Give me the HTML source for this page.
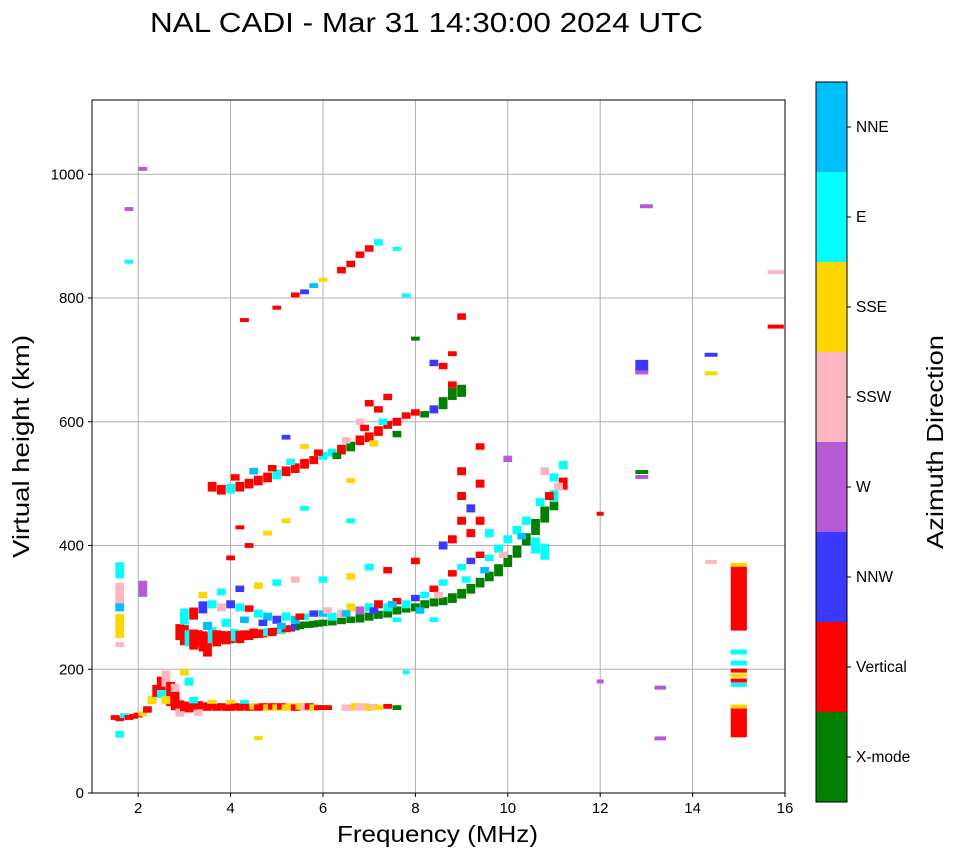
<!DOCTYPE html>
<html><head><meta charset="utf-8"><style>
body{margin:0;background:#fff;font-family:"Liberation Sans",sans-serif}
svg text{font-family:"Liberation Sans",sans-serif}
</style></head><body>
<svg id="chart" width="958" height="857" xmlns="http://www.w3.org/2000/svg">
<text x="150" y="32" font-size="28" textLength="553" lengthAdjust="spacingAndGlyphs">NAL CADI - Mar 31 14:30:00 2024 UTC</text>
<g id="grid"></g>
<g id="marks"></g>
<rect x="92" y="100" width="693" height="693" fill="none" stroke="#000" stroke-width="1"/>
<g id="axes"></g>
<text x="337" y="842" font-size="23" textLength="201" lengthAdjust="spacingAndGlyphs">Frequency (MHz)</text>
<text transform="translate(29,558) rotate(-90)" font-size="23" textLength="223" lengthAdjust="spacingAndGlyphs">Virtual height (km)</text>
<g id="cbar"></g>
<text transform="translate(943,549) rotate(-90)" font-size="23" textLength="214" lengthAdjust="spacingAndGlyphs">Azimuth Direction</text>
</svg>
<script>
const categories=["X-mode","Vertical","NNW","W","SSW","SSE","E","NNE"];
const colors=["#008000","#ff0000","#3a3aff","#b55bd6","#ffb6c1","#ffd700","#00ffff","#00bfff"];
const xTicks=[2,4,6,8,10,12,14,16];
const yTicks=[0,200,400,600,800,1000];
// freq, height, height span, class, width(MHz, optional)
const points=[
[1.5,122,6,1],[1.6,120,6,1],[1.7,125,6,6],[1.8,122,6,1],[1.9,124,6,1],[2.0,126,6,1],[2.1,128,6,5],[2.2,135,8,1],[2.3,150,10,5],[2.4,165,15,1],[2.5,175,20,1],[2.6,185,20,4],[2.7,160,30,1],[2.8,150,25,1],[2.9,140,15,1],
[2.5,160,10,6],[2.6,150,10,5],[2.8,170,10,4],[2.9,130,10,4],
[1.6,360,20,6],[1.6,320,30,4],[1.6,270,30,5],[2.1,330,20,3],[1.6,95,8,6],[1.6,300,10,7],[1.6,240,6,4],
[3.0,140,12,1],[3.1,138,12,1],[3.2,140,10,1],[3.3,142,10,1],[3.4,140,10,1],[3.5,138,8,1],[3.6,140,8,1],[3.7,138,8,1],[3.8,140,8,1],[3.9,138,8,1],[4.0,138,8,1],[4.1,140,8,1],[4.2,138,8,1],[4.3,140,8,1],[4.4,138,8,1],[4.5,140,8,5],[4.6,138,8,1],[4.7,140,8,1],[4.8,138,8,5],[4.9,140,8,1],[5.0,138,8,5],[5.1,140,8,1],[5.2,138,8,5],[5.3,140,8,5],[5.4,138,8,1],[5.5,140,8,5],[5.6,138,8,4],[5.7,140,8,1],[5.8,138,8,5],[5.9,138,6,1],[6.0,138,6,1],[6.1,138,6,1],[6.5,138,8,4],[6.6,138,8,4],[6.7,140,8,5],[6.8,138,8,4],[6.9,140,8,4],[7.0,138,8,5],[7.1,140,6,4],[7.2,138,6,5],[7.4,140,6,1],[7.6,138,6,0],
[3.6,148,4,5],[4.0,148,4,5],[4.3,148,4,6],[3.1,180,10,6],[3.0,195,8,5],[4.6,90,3,5],[3.3,130,8,4],[3.2,150,8,6],
[2.9,260,20,1],[3.0,255,25,1],[3.1,250,20,6],[3.2,248,25,1],[3.3,250,20,1],[3.4,245,25,1],[3.5,240,30,1],[3.6,255,20,6],[3.7,250,20,1],[3.8,252,15,1],[3.9,250,15,1],[4.0,252,15,1],[4.1,255,15,6],[4.2,252,15,1],[4.3,255,12,1],[4.4,255,12,1],[4.5,258,12,1],[4.6,257,10,1],[4.7,258,10,1],[4.8,260,10,6],[4.9,260,10,1],[5.0,262,8,1],[5.1,262,8,6],[5.2,265,8,1],[5.3,266,8,1],[5.4,268,8,2],[5.5,270,8,0],[5.6,272,8,0],[5.7,272,8,0],[5.8,273,8,0],[5.9,274,8,0],[6.0,275,8,0],[6.2,276,8,0],[6.4,278,8,0],[6.6,280,8,0],[6.8,282,10,0],[7.0,285,10,0],[7.2,288,10,0],[7.4,290,10,0],[7.6,295,10,0],[7.8,298,10,0],[8.0,300,10,0],[8.2,305,10,0],[8.4,308,10,0],[8.6,310,10,0],[8.8,315,12,0],[9.0,322,12,0],[9.2,330,12,0],[9.4,340,12,0],[9.6,350,12,0],[9.8,360,15,0],[10.0,375,15,0],[10.2,390,15,0],[10.4,410,15,0],[10.6,430,20,0],[10.8,450,20,0],[11.0,470,20,0],
[3.0,285,20,6],[3.2,290,15,1],[3.4,300,15,2],[3.6,305,10,6],[3.8,300,10,4],[4.0,305,10,2],[4.2,300,10,6],[4.4,298,8,1],[4.6,290,10,6],[4.8,285,10,7],[5.0,280,10,2],[5.2,285,10,6],[5.4,280,10,7],[5.6,285,8,6],[5.8,290,8,2],[6.0,290,8,7],[6.2,285,10,6],[6.4,290,10,4],[6.6,300,10,5],[6.8,295,10,3],[7.0,300,10,6],[7.2,305,10,1],[7.4,300,10,6],[7.6,310,8,1],[7.8,305,10,6],[8.0,315,8,2],[8.2,320,8,6],[8.4,330,8,1],[8.6,340,8,6],[8.8,355,8,1],[9.0,365,8,6],[9.2,375,8,2],[9.4,385,8,1],[9.6,380,8,6],[9.8,395,10,6],[10.0,410,10,6],[10.2,425,10,6],[10.4,440,10,6],[10.6,400,20,6],[10.8,390,20,6],[11.0,480,15,6],[11.2,500,15,1],[10.8,520,10,4],[11.0,510,10,6],[11.2,530,10,6],[9.0,440,10,1],[9.2,420,10,1],[9.4,440,10,1],[9.6,420,10,6],[8.6,400,10,2],[8.8,410,10,1],[9.0,480,10,1],[9.2,460,10,2],[9.4,500,10,1],[9.0,520,10,1],[9.4,560,8,1],[10.0,540,8,3],[8.4,280,6,6],[7.6,280,6,6],
[3.5,270,10,7],[3.9,275,10,6],[4.3,280,8,7],[4.7,275,8,2],[5.1,270,8,7],[5.5,285,8,1],[6.1,295,8,4],[6.5,290,8,7],[7.1,295,8,2],[7.5,305,8,7],[8.1,295,8,7],[8.5,320,8,4],[9.1,345,8,6],[9.5,360,8,7],[9.9,385,8,4],[10.3,415,8,7],[10.7,470,10,6],[11.1,495,10,4],[10.9,480,10,1],
[3.4,320,8,5],[3.8,325,8,6],[4.2,330,8,2],[4.6,335,8,5],[5.0,340,8,6],[5.4,345,8,4],[6.0,345,8,6],[6.6,350,8,5],[7.0,365,8,6],[7.4,360,8,1],[8.0,375,8,1],
[4.0,380,6,1],[4.4,400,6,1],[4.8,420,6,5],[5.2,440,6,5],[5.6,460,6,6],[6.6,440,6,6],[6.6,505,6,5],[4.2,430,4,1],
[3.6,495,12,1],[3.8,490,12,1],[4.0,492,12,6],[4.2,495,12,1],[4.4,500,12,1],[4.6,505,12,1],[4.8,510,12,1],[5.0,515,12,6],[5.2,520,12,1],[5.4,525,12,1],[5.6,532,12,1],[5.8,538,10,1],[6.0,545,10,6],[6.2,550,10,6],[6.4,555,12,1],[6.6,560,12,0],[6.8,570,12,1],[7.0,575,12,1],[7.2,585,12,1],[7.4,595,10,1],[7.6,600,10,1],[7.8,610,8,1],[8.0,615,8,1],[8.2,612,8,0],[8.4,620,10,2],[8.6,630,15,0],[8.8,645,15,0],[9.0,650,15,0],[8.4,695,8,2],[8.6,690,8,1],[8.8,710,6,1],[9.0,770,8,1],[8.8,660,8,1],[6.8,600,8,4],[7.2,620,8,1],[7.0,630,8,1],[7.4,640,8,1],[5.2,575,6,2],[5.6,560,6,5],
[4.1,510,8,1],[4.5,520,8,7],[4.9,525,8,1],[5.3,535,8,6],[5.9,550,8,1],[6.5,570,8,4],[6.9,590,8,1],[7.3,600,8,6],[7.1,565,8,5],[6.3,545,8,0],[7.6,580,8,0],
[5.0,785,4,1],[5.4,805,6,1],[5.6,810,6,2],[5.8,820,6,7],[6.0,830,4,5],[6.4,845,8,1],[6.6,855,8,1],[6.8,870,8,1],[7.0,880,8,1],[7.2,890,8,6],[7.6,880,4,6],[4.3,765,4,1],[7.8,805,4,6],[8.0,735,4,0],
[1.8,945,3,3],[2.1,1010,3,3],[1.8,860,3,6],
[15.0,315,105,1,0.35],[15.0,370,4,5,0.35],[15.0,228,8,6,0.35],[15.0,210,8,6,0.35],[15.0,198,6,1,0.35],[15.0,190,6,5,0.35],[15.0,182,6,1,0.35],[15.0,175,6,6,0.35],[15.0,115,50,1,0.35],[15.0,140,6,5,0.35],
[12.9,690,20,2,0.28],[12.9,680,6,3,0.28],[12.9,520,4,0,0.28],[12.9,512,4,3,0.28],[13.0,950,3,3,0.28],[14.4,710,3,2,0.28],[14.4,680,3,5,0.28],[15.8,755,4,1,0.35],[15.8,843,4,4,0.35],[13.3,172,3,3,0.25],[13.3,90,3,3,0.25],[12.0,453,3,1,0.15],[12.0,182,3,3,0.15],[14.4,375,3,4,0.25],[7.8,197,3,6,0.15]
];
const NS="http://www.w3.org/2000/svg";
const X0=92,X1=785,Y0=793,Y1=100,fMin=1,fMax=16,hMin=0,hMax=1120;
const xs=f=>X0+(f-fMin)/(fMax-fMin)*(X1-X0);
const ys=h=>Y0-(h-hMin)/(hMax-hMin)*(Y0-Y1);
function mk(tag,attrs,parent){const e=document.createElementNS(NS,tag);for(const k in attrs)e.setAttribute(k,attrs[k]);parent.appendChild(e);return e;}
const grid=document.getElementById('grid'),axes=document.getElementById('axes'),marks=document.getElementById('marks'),cbar=document.getElementById('cbar');
xTicks.forEach(t=>{const x=xs(t);
 const g=mk('line',{x1:x,x2:x,y1:Y1,y2:Y0,stroke:'#b0b0b0','stroke-width':1},grid);
 
 mk('line',{x1:x,x2:x,y1:Y0,y2:Y0+4,stroke:'#000'},axes);
 const tx=mk('text',{x:x,y:Y0+20,'font-size':15,'text-anchor':'middle'},axes);tx.textContent=t;
 });
yTicks.forEach(t=>{const y=ys(t);
 const g=mk('line',{x1:X0,x2:X1,y1:y,y2:y,stroke:'#b0b0b0','stroke-width':1},grid);
 
 mk('line',{x1:X0-4,x2:X0,y1:y,y2:y,stroke:'#000'},axes);
 const tx=mk('text',{x:X0-8,y:y+5,'font-size':15,'text-anchor':'end'},axes);tx.textContent=t;
 });
points.forEach(p=>{const w=(p[4]||0.19)/(fMax-fMin)*(X1-X0);
 const span=p[4]?p[2]:p[2]*1.3;
 const top=ys(p[1]+span/2),hh=Math.max(4,ys(p[1]-span/2)-top);
 const r=mk('rect',{x:xs(p[0])-w/2,y:top,width:w,height:hh,fill:colors[p[3]]},marks);
 });
const CX=816,CW=31,CT=82,CB=802,seg=(CB-CT)/categories.length;
categories.forEach((c,i)=>{const y=CB-(i+1)*seg;
 const r=mk('rect',{x:CX,y:y,width:CW,height:seg,fill:colors[i]},cbar);
 
 mk('line',{x1:CX+CW,x2:CX+CW+4,y1:y+seg/2,y2:y+seg/2,stroke:'#000'},cbar);
 const tx=mk('text',{x:CX+CW+9,y:y+seg/2+5,'font-size':15.5},cbar);tx.textContent=c;
 });
mk('rect',{x:CX,y:CT,width:CW,height:CB-CT,fill:'none',stroke:'#000'},cbar);
</script>
</body></html>
